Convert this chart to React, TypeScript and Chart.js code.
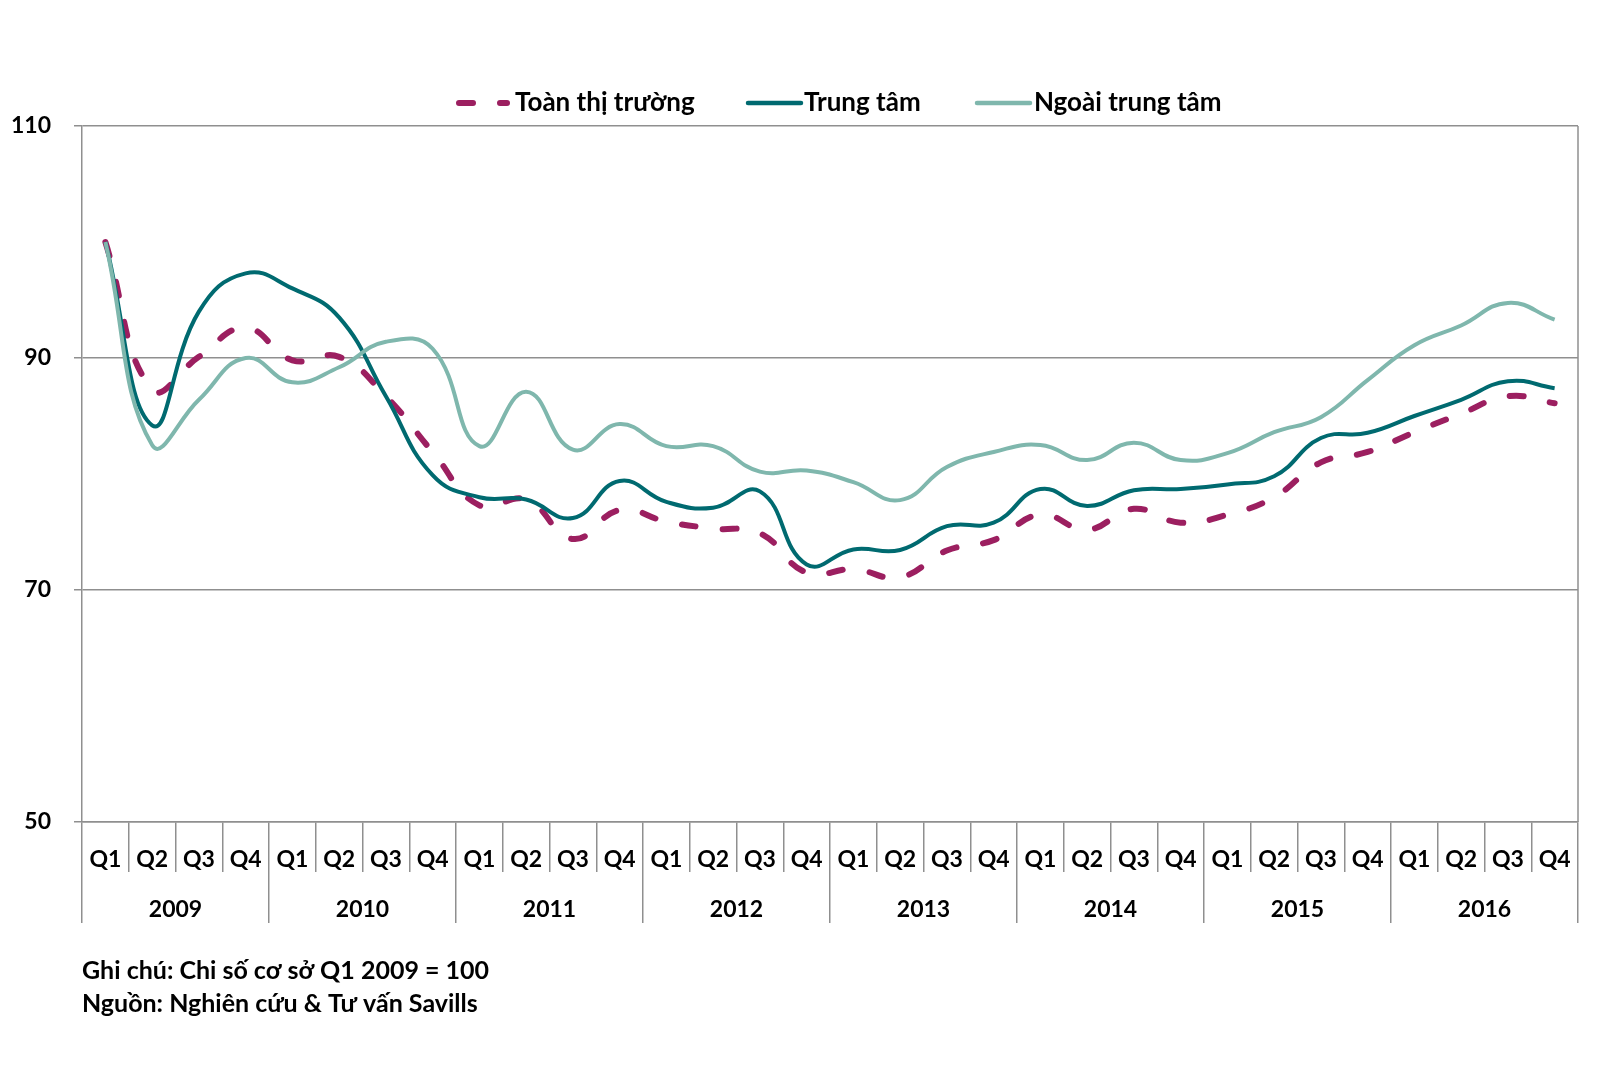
import { useEffect, useRef } from "react";
import { Chart, registerables } from "chart.js";

Chart.register(...registerables);

const years = ["2009", "2010", "2011", "2012", "2013", "2014", "2015", "2016"];
const quarters = ["Q1", "Q2", "Q3", "Q4"];
const categories = years.flatMap(() => quarters);

const toanThiTruong = [
  100, 87.3, 90.1, 92.6,
  89.8, 90.1, 86.7, 81.9,
  77.3, 77.8, 74.4, 76.9,
  75.9, 75.3, 74.9, 71.5,
  71.8, 71.1, 73.4, 74.3,
  76.5, 75.2, 77.0, 75.8,
  76.5, 78.0, 81.0, 81.9,
  83.6, 85.2, 86.7, 86.1,
];
const trungTam = [
  100, 84.2, 94.0, 97.3,
  96.0, 93.5, 86.7, 79.9,
  78.0, 77.8, 76.2, 79.4,
  77.6, 77.1, 78.5, 72.2,
  73.5, 73.45, 75.5, 75.8,
  78.7, 77.25, 78.6, 78.7,
  79.1, 79.8, 83.1, 83.55,
  85.0, 86.4, 88.0, 87.4,
];
const ngoaiTrungTam = [
  100, 82.5, 86.4, 90.0,
  87.9, 89.2, 91.4, 90.8,
  82.4, 87.1, 82.1, 84.3,
  82.4, 82.4, 80.2, 80.3,
  79.3, 77.75, 80.6, 81.9,
  82.5, 81.2, 82.7, 81.2,
  81.8, 83.6, 84.9, 88.1,
  91.1, 92.8, 94.75, 93.3,
];

const seriesNames = ["Toàn thị trường", "Trung tâm", "Ngoài trung tâm"];
const yMin = 50;
const yMax = 110;
const yStep = 20;
const notes = ["Ghi chú: Chi số cơ sở Q1 2009 = 100", "Nguồn: Nghiên cứu & Tư vấn Savills"];

const MAGENTA = "#9c1f60";
const DARK_TEAL = "#006a70";
const LIGHT_TEAL = "#7fb7ad";
const GRID = "#8f8f8f";
const FONT = "Lato";
const DASH = [14, 27];

const overlayPlugin = {
  id: "overlay",
  afterDraw(chart: any) {
    const ctx = chart.ctx as CanvasRenderingContext2D;
    const area = chart.chartArea;
    ctx.save();
    // right border of plot area
    ctx.strokeStyle = GRID;
    ctx.lineWidth = 1.5;
    ctx.beginPath();
    ctx.moveTo(area.right, area.top);
    ctx.lineTo(area.right, area.bottom);
    ctx.stroke();

    // legend
    const legend = [
      { label: seriesNames[0], color: MAGENTA, dash: DASH, width: 6, x0: 459, x1: 507, tx: 515 },
      { label: seriesNames[1], color: DARK_TEAL, dash: [], width: 4.5, x0: 748, x1: 801, tx: 804 },
      { label: seriesNames[2], color: LIGHT_TEAL, dash: [], width: 4.5, x0: 977, x1: 1030, tx: 1034 },
    ];
    const ly = 103;
    legend.forEach((it) => {
      ctx.strokeStyle = it.color;
      ctx.lineWidth = it.width;
      ctx.lineCap = "round";
      ctx.setLineDash(it.dash);
      ctx.beginPath();
      ctx.moveTo(it.x0, ly);
      ctx.lineTo(it.x1, ly);
      ctx.stroke();
      ctx.setLineDash([]);
      ctx.fillStyle = "#000";
      ctx.font = `bold 26px ${FONT}`;
      ctx.textBaseline = "middle";
      ctx.textAlign = "left";
      ctx.fillText(it.label, it.tx, ly);
    });

    // footnotes
    ctx.fillStyle = "#000";
    ctx.font = `bold 25px ${FONT}`;
    ctx.textBaseline = "middle";
    ctx.textAlign = "left";
    ctx.fillText(notes[0], 82, 971);
    ctx.fillText(notes[1], 82, 1004);
    ctx.restore();
  },
};

export default function App() {
  const canvasRef = useRef<HTMLCanvasElement | null>(null);

  useEffect(() => {
    if (!canvasRef.current) return;
    const tickFont = { family: FONT, size: 23, weight: "bold" as const };
    const chart = new Chart(canvasRef.current, {
      type: "line",
      data: {
        labels: categories,
        datasets: [
          {
            label: seriesNames[0],
            data: toanThiTruong,
            borderColor: MAGENTA,
            borderWidth: 6,
            borderDash: DASH,
            borderCapStyle: "round",
            pointRadius: 0,
            tension: 0.45,
            fill: false,
            order: 3,
          },
          {
            label: seriesNames[1],
            data: trungTam,
            borderColor: DARK_TEAL,
            borderWidth: 4,
            pointRadius: 0,
            tension: 0.45,
            fill: false,
            order: 2,
          },
          {
            label: seriesNames[2],
            data: ngoaiTrungTam,
            borderColor: LIGHT_TEAL,
            borderWidth: 4,
            pointRadius: 0,
            tension: 0.45,
            fill: false,
            order: 1,
          },
        ],
      },
      options: {
        responsive: false,
        animation: false,
        devicePixelRatio: 1,
        layout: { padding: { left: 0, right: 22, top: 126, bottom: 147 } },
        plugins: {
          legend: { display: false },
          tooltip: { enabled: false },
        },
        scales: {
          x: {
            type: "category",
            position: "bottom",
            weight: 0,
            offset: true,
            grid: {
              offset: true,
              drawOnChartArea: false,
              tickLength: 50,
              color: GRID,
              lineWidth: 1.5,
            },
            border: { display: true, color: GRID, width: 1.5 },
            ticks: {
              padding: -26,
              font: tickFont,
              color: "#000",
              autoSkip: false,
              maxRotation: 0,
              minRotation: 0,
            },
            afterFit: (s: any) => {
              s.height = 50;
            },
          },
          x2: {
            type: "category",
            labels: years,
            position: "bottom",
            weight: 1,
            offset: true,
            grid: {
              offset: true,
              drawOnChartArea: false,
              tickLength: 51,
              color: GRID,
              lineWidth: 1.5,
            },
            border: { display: false },
            ticks: {
              padding: -27,
              font: tickFont,
              color: "#000",
              autoSkip: false,
              maxRotation: 0,
              minRotation: 0,
            },
            afterFit: (s: any) => {
              s.height = 51;
            },
          },
          y: {
            min: yMin,
            max: yMax,
            ticks: {
              stepSize: yStep,
              padding: 23,
              font: tickFont,
              color: "#000",
            },
            grid: { color: GRID, lineWidth: 1.5, tickLength: 8 },
            border: { color: GRID, width: 1.5 },
            afterFit: (s: any) => {
              s.width = 82;
            },
          },
        },
      } as any,
      plugins: [overlayPlugin],
    });
    return () => chart.destroy();
  }, []);

  return (
    <div style={{ position: "fixed", left: 0, top: 0, width: 1600, height: 1070, background: "#fff" }}>
      <canvas ref={canvasRef} width={1600} height={1070} style={{ width: 1600, height: 1070 }} />
    </div>
  );
}
